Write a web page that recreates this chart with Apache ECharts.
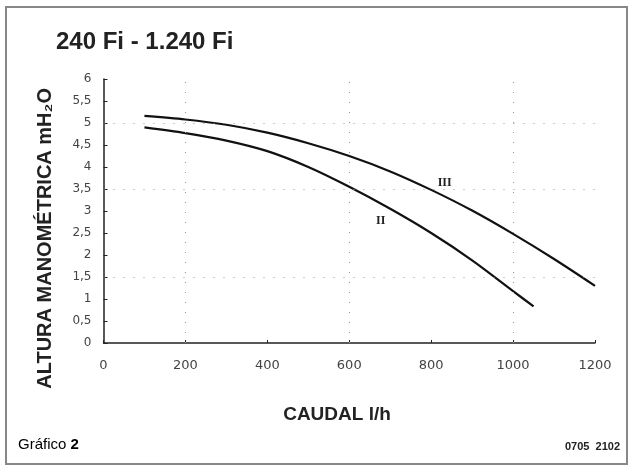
<!DOCTYPE html>
<html>
<head>
<meta charset="utf-8">
<script src="https://cdn.jsdelivr.net/npm/echarts@6/dist/echarts.min.js"></script>
<style>
  html, body { margin: 0; padding: 0; background: #fff; }
  #chart { width: 632px; height: 470px; }
</style>
</head>
<body>
<div id="chart"></div>
<script>
// curva velocidad III (superior)
const caudalIII = [100, 200, 300, 400, 500, 600, 700, 800, 900, 1000, 1100, 1200];
const alturaIII = [5.16, 5.08, 4.96, 4.78, 4.54, 4.25, 3.90, 3.48, 3.01, 2.48, 1.91, 1.30];
// curva velocidad II (inferior)
const caudalII = [100, 200, 300, 400, 500, 600, 700, 800, 900, 1000, 1050];
const alturaII = [4.90, 4.77, 4.60, 4.36, 4.00, 3.55, 3.05, 2.50, 1.88, 1.18, 0.83];

// etiquetas de las curvas [caudal, altura]
const labelIII = [833, 3.64];
const labelII = [677, 2.77];

// líneas punteadas de la cuadrícula (escaneo)
const gridLinesY = [5, 3.5, 1.5];
const gridLinesX = [200, 600, 1000];

const toPairs = (xs, ys) => xs.map((x, i) => [x, ys[i]]);

const myChart = echarts.init(document.getElementById('chart'));

const dotted = { color: '#999', width: 1, type: [1, 9] };

myChart.setOption({
  animation: false,
  backgroundColor: '#fff',
  grid: { left: 103.5, right: 37, top: 79, bottom: 127 },
  xAxis: {
    type: 'value',
    min: 0,
    max: 1200,
    interval: 200,
    axisLine: { lineStyle: { color: '#222', width: 1.5 } },
    axisTick: { show: true, inside: true, length: 3, lineStyle: { color: '#222' } },
    axisLabel: {
      color: '#444',
      fontSize: 13,
      margin: 16,
      fontFamily: 'DejaVu Sans',
      formatter: (v) => String(v),
    },
    splitLine: { show: false },
  },
  yAxis: {
    type: 'value',
    min: 0,
    max: 6,
    interval: 0.5,
    axisLine: { show: true, lineStyle: { color: '#222', width: 1.5 } },
    axisTick: { show: true, inside: true, length: 4, lineStyle: { color: '#222' } },
    axisLabel: {
      color: '#444',
      fontSize: 12,
      margin: 12,
      fontFamily: 'DejaVu Sans',
      formatter: (v) => String(v).replace('.', ','),
    },
    splitLine: { show: false },
  },
  series: [
    {
      name: 'III',
      type: 'line',
      smooth: 0.3,
      symbol: 'none',
      data: toPairs(caudalIII, alturaIII),
      lineStyle: { color: '#111', width: 2.2 },
      markPoint: {
        symbol: 'circle',
        symbolSize: 0,
        label: {
          show: true,
          formatter: 'III',
          color: '#222',
          fontSize: 12,
          fontFamily: 'Liberation Serif',
          fontWeight: 'bold',
        },
        data: [{ coord: labelIII }],
      },
      markLine: {
        silent: true,
        symbol: 'none',
        label: { show: false },
        lineStyle: dotted,
        data: gridLinesY.map((y) => ({ yAxis: y })).concat(gridLinesX.map((x) => ({ xAxis: x }))),
      },
    },
    {
      name: 'II',
      type: 'line',
      smooth: 0.3,
      symbol: 'none',
      data: toPairs(caudalII, alturaII),
      lineStyle: { color: '#111', width: 2.2 },
      markPoint: {
        symbol: 'circle',
        symbolSize: 0,
        label: {
          show: true,
          formatter: 'II',
          color: '#222',
          fontSize: 12,
          fontFamily: 'Liberation Serif',
          fontWeight: 'bold',
        },
        data: [{ coord: labelII }],
      },
    },
  ],
  graphic: [
    {
      type: 'rect',
      shape: { x: 6, y: 7, width: 621, height: 457 },
      style: { fill: 'none', stroke: '#888', lineWidth: 2 },
      silent: true,
    },
    {
      type: 'text',
      x: 56,
      y: 42,
      style: {
        text: '240 Fi - 1.240 Fi',
        font: 'bold 24px "Liberation Sans", Arial, sans-serif',
        fill: '#222',
        textVerticalAlign: 'middle',
      },
    },
    {
      type: 'text',
      x: 45,
      y: 88,
      rotation: Math.PI / 2,
      style: {
        text: 'ALTURA MANOMÉTRICA mH₂O',
        font: 'bold 20px "Liberation Sans", Arial, sans-serif',
        fill: '#222',
        textAlign: 'right',
        textVerticalAlign: 'middle',
      },
    },
    {
      type: 'text',
      x: 337,
      y: 415,
      style: {
        text: 'CAUDAL l/h',
        font: 'bold 19px "Liberation Sans", Arial, sans-serif',
        fill: '#222',
        textAlign: 'center',
        textVerticalAlign: 'middle',
      },
    },
    {
      type: 'text',
      x: 18,
      y: 445,
      style: {
        text: '{a|Gráfico }{b|2}',
        rich: {
          a: { fontSize: 15, fontFamily: 'Liberation Sans', color: '#222' },
          b: { fontSize: 15, fontFamily: 'Liberation Sans', fontWeight: 'bold', color: '#222' },
        },
        textVerticalAlign: 'middle',
      },
    },
    {
      type: 'text',
      x: 620,
      y: 447,
      style: {
        text: '0705  2102',
        font: 'bold 11px "Liberation Sans", Arial, sans-serif',
        fill: '#222',
        textAlign: 'right',
        textVerticalAlign: 'middle',
      },
    },
  ],
});
</script>
</body>
</html>
